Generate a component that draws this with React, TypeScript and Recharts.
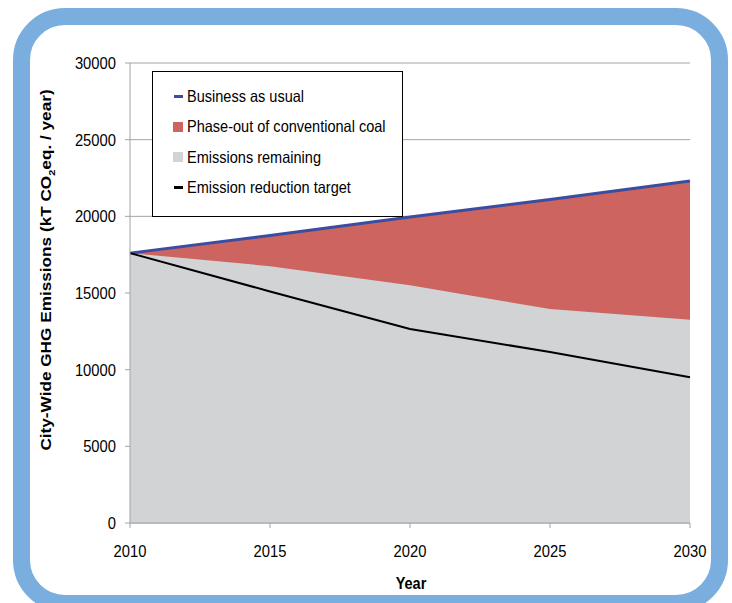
import { ComposedChart, Area, Line, XAxis, YAxis, CartesianGrid, Legend } from "recharts";

const years = [2010, 2015, 2020, 2025, 2030];
const businessAsUsual = [17600, 18750, 19950, 21100, 22300];
const emissionsRemaining = [17600, 16750, 15500, 13950, 13250];
const reductionTarget = [17600, 15100, 12650, 11150, 9500];

const yTicks = [0, 5000, 10000, 15000, 20000, 25000, 30000];
const xTicks = [2010, 2015, 2020, 2025, 2030];

const legendItems = [
  { label: "Business as usual", color: "#3a4da0", kind: "line" },
  { label: "Phase-out of conventional coal", color: "#cd6460", kind: "box" },
  { label: "Emissions remaining", color: "#d2d3d5", kind: "box" },
  { label: "Emission reduction target", color: "#000000", kind: "line" },
];

const data = years.map((year, i) => ({
  year,
  bau: businessAsUsual[i],
  remaining: emissionsRemaining[i],
  target: reductionTarget[i],
}));

const FONT = "'Liberation Sans', Arial, sans-serif";
const SQUEEZE = 0.88;
const AXIS_GRAY = "#a3a3a3";

function XTick({ x, y, payload }: any) {
  return (
    <g transform={`translate(${x},${y})`}>
      <text transform={`scale(${SQUEEZE},1)`} textAnchor="middle" dy={14} fontSize={16.8} fill="#000" fontFamily={FONT}>
        {payload.value}
      </text>
    </g>
  );
}

function YTick({ x, y, payload }: any) {
  return (
    <g transform={`translate(${x},${y})`}>
      <text transform={`scale(${SQUEEZE},1)`} textAnchor="end" dy={6} fontSize={16.8} fill="#000" fontFamily={FONT}>
        {payload.value}
      </text>
    </g>
  );
}

function YTitle({ viewBox }: any) {
  const cx = viewBox.x + 21;
  const cy = 270;
  return (
    <text
      transform={`translate(${cx},${cy}) scale(${SQUEEZE},1) rotate(-90)`}
      textAnchor="middle"
      fontSize={17.2}
      fontWeight="bold"
      fill="#000"
      fontFamily={FONT}
    >
      City-Wide GHG Emissions (kT CO
      <tspan fontSize={11} dy={4}>2</tspan>
      <tspan dy={-4}>eq. / year)</tspan>
    </text>
  );
}

function XTitle({ viewBox }: any) {
  const cx = viewBox.x + viewBox.width / 2 + 1;
  return (
    <text
      transform={`translate(${cx},589) scale(${SQUEEZE},1)`}
      textAnchor="middle"
      fontSize={16.5}
      fontWeight="bold"
      fill="#000"
      fontFamily={FONT}
    >
      Year
    </text>
  );
}

function LegendBox() {
  return (
    <div
      style={{
        width: 249,
        height: 135,
        border: "1px solid #000",
        background: "#fff",
        boxSizing: "content-box",
        paddingTop: 9,
        fontFamily: FONT,
      }}
    >
      {legendItems.map((item) => (
        <div key={item.label} style={{ display: "flex", alignItems: "center", height: 30.5, paddingLeft: 20 }}>
          <span style={{ width: 10, display: "flex", alignItems: "center", justifyContent: "center" }}>
            {item.kind === "line" ? (
              <span style={{ width: 9, height: 3, background: item.color }} />
            ) : (
              <span style={{ width: 10, height: 10, background: item.color }} />
            )}
          </span>
          <span
            style={{
              marginLeft: 4,
              fontSize: 16.5,
              color: "#000",
              whiteSpace: "nowrap",
              transform: `scaleX(${SQUEEZE})`,
              transformOrigin: "left center",
            }}
          >
            {item.label}
          </span>
        </div>
      ))}
    </div>
  );
}

export default function App() {
  return (
    <div style={{ position: "relative", width: 732, height: 603, overflow: "hidden", background: "#fff" }}>
      <style>{"body{margin:0}"}</style>
      <div
        style={{
          position: "absolute",
          left: 13,
          top: 8,
          width: 715,
          height: 604,
          boxSizing: "border-box",
          border: "17px solid #7aaede",
          borderRadius: 52,
        }}
      />
      <div style={{ position: "absolute", left: 0, top: 0 }}>
        <ComposedChart width={732} height={603} data={data} margin={{ top: 63, right: 42, bottom: 40, left: 30 }}>
          <CartesianGrid horizontal vertical={false} stroke={AXIS_GRAY} strokeWidth={1} />
          <XAxis
            dataKey="year"
            type="number"
            domain={[2010, 2030]}
            ticks={xTicks}
            height={40}
            tickSize={5}
            tickMargin={15}
            stroke={AXIS_GRAY}
            tick={<XTick />}
            label={<XTitle />}
          />
          <YAxis
            type="number"
            domain={[0, 30000]}
            ticks={yTicks}
            width={100}
            tickSize={5}
            tickMargin={9}
            stroke={AXIS_GRAY}
            tick={<YTick />}
            label={<YTitle />}
          />
          <Area dataKey="bau" type="linear" fill="#cd6460" fillOpacity={1} stroke="none" isAnimationActive={false} />
          <Area dataKey="remaining" type="linear" fill="#d2d3d5" fillOpacity={1} stroke="none" isAnimationActive={false} />
          <Line dataKey="bau" type="linear" stroke="#3a4da0" strokeWidth={3} dot={false} isAnimationActive={false} />
          <Line dataKey="target" type="linear" stroke="#000" strokeWidth={2} dot={false} isAnimationActive={false} />
          <Legend
            layout="horizontal"
            verticalAlign="middle"
            align="center"
            wrapperStyle={{ left: 152, top: 71, width: 251, height: 137 }}
            content={() => <LegendBox />}
          />
        </ComposedChart>
      </div>
    </div>
  );
}
